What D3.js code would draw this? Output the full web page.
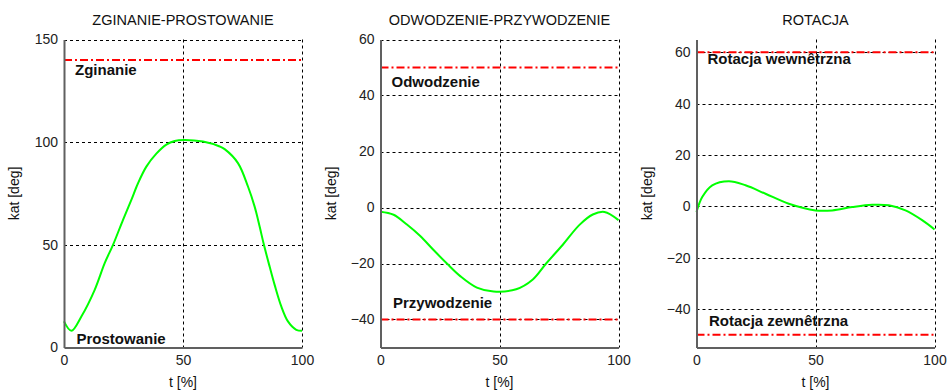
<!DOCTYPE html>
<html>
<head>
<meta charset="utf-8">
<script src="https://cdn.jsdelivr.net/npm/d3@7"></script>
<style>
  body { margin: 0; background: #fff; }
  svg text { font-family: "Liberation Sans", Arial, sans-serif; fill: #111; }
</style>
</head>
<body>
<div class="layout"></div>
<script>

// chart values
var flexT   = [0, 3.1, 7.3, 12.9, 17.1, 20.6, 24.8, 28.3, 31.1, 34.6, 38.8, 43, 46.5, 50.3, 58.4, 65.4, 67.5, 73.1, 77.3, 80.1, 82.2, 84, 86.4, 88.5, 91.3, 94.1, 97.6, 100]
var flexDeg = [12.7, 8.1, 15.1, 28.1, 41.1, 50, 62.2, 71.9, 80, 88.1, 94.4, 98.8, 100.6, 101.1, 100.3, 97.9, 96.6, 89.8, 78.4, 68.6, 58.9, 50, 39.4, 30.5, 20, 12.7, 8.6, 8.1]

var abdT   = [0, 5.5, 11.1, 16.7, 22.3, 27.9, 33.5, 40.5, 47.5, 57, 64, 69.6, 76.6, 83.6, 89.2, 94.1, 100]
var abdDeg = [-1.5, -2.6, -6.1, -10.2, -15.2, -20, -24.5, -28.6, -30, -29.2, -25.7, -20, -13.3, -6.2, -2.5, -1.6, -4.5]

var rotT   = [0, 2.4, 6.6, 13.6, 20.6, 29, 38.8, 50, 57, 65.4, 73.8, 80.8, 87.8, 94.8, 100]
var rotDeg = [-2.2, 3.6, 8.2, 9.8, 8.2, 4.9, 1, -1.6, -1.6, -0.3, 0.6, 0.4, -1.6, -5.4, -9]

var titles = ["ZGINANIE-PROSTOWANIE", "ODWODZENIE-PRZYWODZENIE", "ROTACJA"]
var yDomains = [[0, 150], [-50, 60], [-55, 65]]
var yTicks = [[0, 50, 100, 150], [-40, -20, 0, 20, 40, 60], [-40, -20, 0, 20, 40, 60]]
var xTicks = [0, 50, 100]
var limitsUpper = [140, 50, 60]
var limitsLower = [null, -40, -50]
var labelsUpper = ["Zginanie", "Odwodzenie", "Rotacja wewnêtrzna"]
var labelsLower = ["Prostowanie", "Przywodzenie", "Rotacja zewnêtrzna"]
// value where each label baseline sits
var labelUpperAt = [132.5, 43, 55.5]
var labelLowerAt = [1.8, -36, -46.5]

var series = [
  { t: flexT, deg: flexDeg },
  { t: abdT, deg: abdDeg },
  { t: rotT, deg: rotDeg }
]

var width = 949
var height = 390
var plotLefts = [64, 380.5, 696.5]
var plotW = 238
var plotTop = 39.5
var plotBottom = 347.5

var svg = d3.select("div.layout")
  .append("svg")
  .attr("width", width)
  .attr("height", height)

titles.forEach(function (title, i) {
  var left = plotLefts[i]

  var x = d3.scaleLinear()
    .domain([0, 100])
    .range([left, left + plotW])

  var y = d3.scaleLinear()
    .domain(yDomains[i])
    .range([plotBottom, plotTop])

  var g = svg.append("g").attr("class", "panel")

  // grid lines
  g.selectAll("line.hgrid")
    .data(yTicks[i].filter(function (d) { return d !== yDomains[i][0] }))
    .enter()
    .append("line")
    .attr("class", "hgrid")
    .attr("x1", x(0))
    .attr("x2", x(100))
    .attr("y1", function (d) { return Math.round(y(d)) + 0.5 })
    .attr("y2", function (d) { return Math.round(y(d)) + 0.5 })
    .attr("stroke", "#000")
    .attr("stroke-dasharray", "3,3")

  g.selectAll("line.vgrid")
    .data(xTicks.filter(function (d) { return d !== 0 }))
    .enter()
    .append("line")
    .attr("class", "vgrid")
    .attr("x1", function (d) { return Math.round(x(d)) + 0.5 })
    .attr("x2", function (d) { return Math.round(x(d)) + 0.5 })
    .attr("y1", plotTop)
    .attr("y2", plotBottom)
    .attr("stroke", "#000")
    .attr("stroke-dasharray", "3,3")

  // limit lines
  var limits = [limitsUpper[i], limitsLower[i]].filter(function (d) { return d !== null })
  g.selectAll("line.limit")
    .data(limits)
    .enter()
    .append("line")
    .attr("class", "limit")
    .attr("x1", x(0))
    .attr("x2", x(100))
    .attr("y1", function (d) { return y(d) })
    .attr("y2", function (d) { return y(d) })
    .attr("stroke", "#ff0000")
    .attr("stroke-width", 2)
    .attr("stroke-dasharray", "8,3,2,3")

  // the curve
  var line = d3.line()
    .x(function (d, k) { return x(series[i].t[k]) })
    .y(function (d) { return y(d) })
    .curve(d3.curveCatmullRom.alpha(0.5))

  g.append("path")
    .datum(series[i].deg)
    .attr("d", line)
    .attr("fill", "none")
    .attr("stroke", "#00ff00")
    .attr("stroke-width", 2)

  // axes
  var yAxis = g.append("g")
    .attr("transform", "translate(" + left + ",0)")
    .call(d3.axisLeft(y).tickValues(yTicks[i]).tickSize(0).tickPadding(6).tickFormat(d3.format("d")))
  var xAxis = g.append("g")
    .attr("transform", "translate(0," + plotBottom + ")")
    .call(d3.axisBottom(x).tickValues(xTicks).tickSize(0).tickPadding(8))

  ;[yAxis, xAxis].forEach(function (a) {
    a.select(".domain").attr("stroke", "#606060").attr("stroke-width", 2)
    a.selectAll("text")
      .style("font-size", "14px")
      .style("fill", "#222")
  })

  // labels
  g.append("text")
    .attr("x", left + 11)
    .attr("y", y(labelUpperAt[i]))
    .style("font-size", "15px")
    .style("font-weight", "bold")
    .text(labelsUpper[i])

  g.append("text")
    .attr("x", left + 12.5)
    .attr("y", y(labelLowerAt[i]))
    .style("font-size", "15px")
    .style("font-weight", "bold")
    .text(labelsLower[i])

  // titles
  g.append("text")
    .attr("x", left + plotW / 2)
    .attr("y", 25)
    .attr("text-anchor", "middle")
    .style("font-size", "14.5px")
    .text(title)

  g.append("text")
    .attr("x", left + plotW / 2)
    .attr("y", 387)
    .attr("text-anchor", "middle")
    .style("font-size", "14px")
    .text("t [%]")

  g.append("text")
    .attr("transform", "translate(" + (left - 45) + "," + ((plotTop + plotBottom) / 2) + ") rotate(-90)")
    .attr("text-anchor", "middle")
    .style("font-size", "14px")
    .text("kat [deg]")
})

</script>
</body>
</html>
